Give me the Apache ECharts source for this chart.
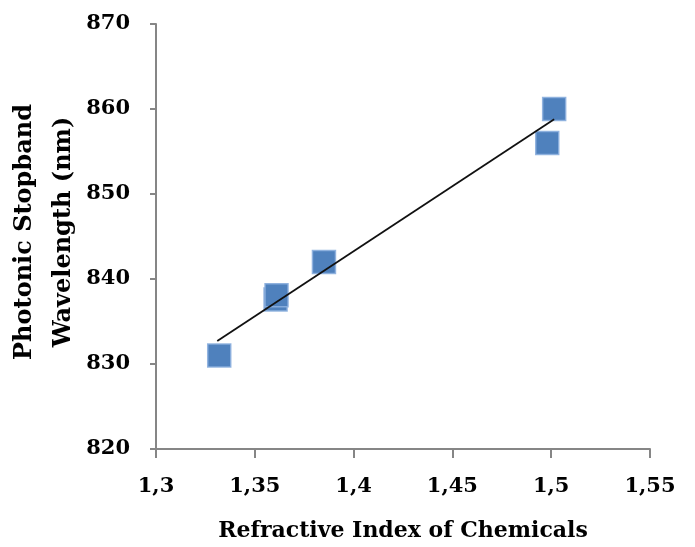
<!DOCTYPE html>
<html>
<head>
<meta charset="utf-8">
<script src="https://cdn.jsdelivr.net/npm/echarts@6/dist/echarts.min.js"></script>
<style>html,body{margin:0;padding:0;background:#fff}#c{width:695px;height:547px}</style>
</head>
<body>
<div id="c"></div>
<script>
const refractiveIndex = [1.332, 1.3605, 1.361, 1.385, 1.498, 1.5015];
const wavelength = [831, 837.6, 838.1, 842, 856, 860];
const trendX = [1.331, 1.5015];
const trendY = [832.7, 858.8];
const xTitle = 'Refractive Index of Chemicals';
const yTitle = 'Photonic Stopband\nWavelength (nm)';

const points = refractiveIndex.map((x, i) => [x, wavelength[i]]);
const trend = trendX.map((x, i) => [x, trendY[i]]);
const font = 'DejaVu Serif';
const chart = echarts.init(document.getElementById('c'));
chart.setOption({
  animation: false,
  grid: {left: 156, right: 45, top: 24, bottom: 96},
  xAxis: {
    type: 'value', min: 1.3, max: 1.55, interval: 0.05,
    name: xTitle, nameLocation: 'middle', nameGap: 71,
    nameTextStyle: {fontFamily: font, fontWeight: 'bold', fontSize: 22, color: '#000'},
    axisLine: {lineStyle: {color: '#868686', width: 2}},
    axisTick: {show: true, length: 9, lineStyle: {color: '#868686', width: 2}},
    axisLabel: {margin: 27, fontFamily: font, fontWeight: 'bold', fontSize: 21, color: '#000',
      formatter: v => String(+v.toFixed(2)).replace('.', ',')},
    splitLine: {show: false}
  },
  yAxis: {
    type: 'value', min: 820, max: 870, interval: 10,
    axisLine: {show: true, lineStyle: {color: '#868686', width: 2}},
    axisTick: {show: true, length: 6, lineStyle: {color: '#868686', width: 2}},
    axisLabel: {margin: 26, fontFamily: font, fontWeight: 'bold', fontSize: 21, color: '#000'},
    splitLine: {show: false}
  },
  graphic: [{
    type: 'text', x: 44, y: 232, rotation: Math.PI / 2,
    style: {text: yTitle, fontFamily: font, fontWeight: 'bold', fontSize: 24, lineHeight: 39,
      fill: '#000', align: 'center', verticalAlign: 'middle'}
  }],
  series: [{
    type: 'scatter', data: points, symbol: 'rect', symbolSize: 23,
    itemStyle: {color: '#4F81BD', borderColor: 'rgba(140,175,222,0.9)', borderWidth: 1.5, opacity: 1},
    z: 2
  }, {
    type: 'line', data: trend, symbol: 'none',
    lineStyle: {color: '#111', width: 1.8}, z: 3
  }]
});
</script>
</body>
</html>
